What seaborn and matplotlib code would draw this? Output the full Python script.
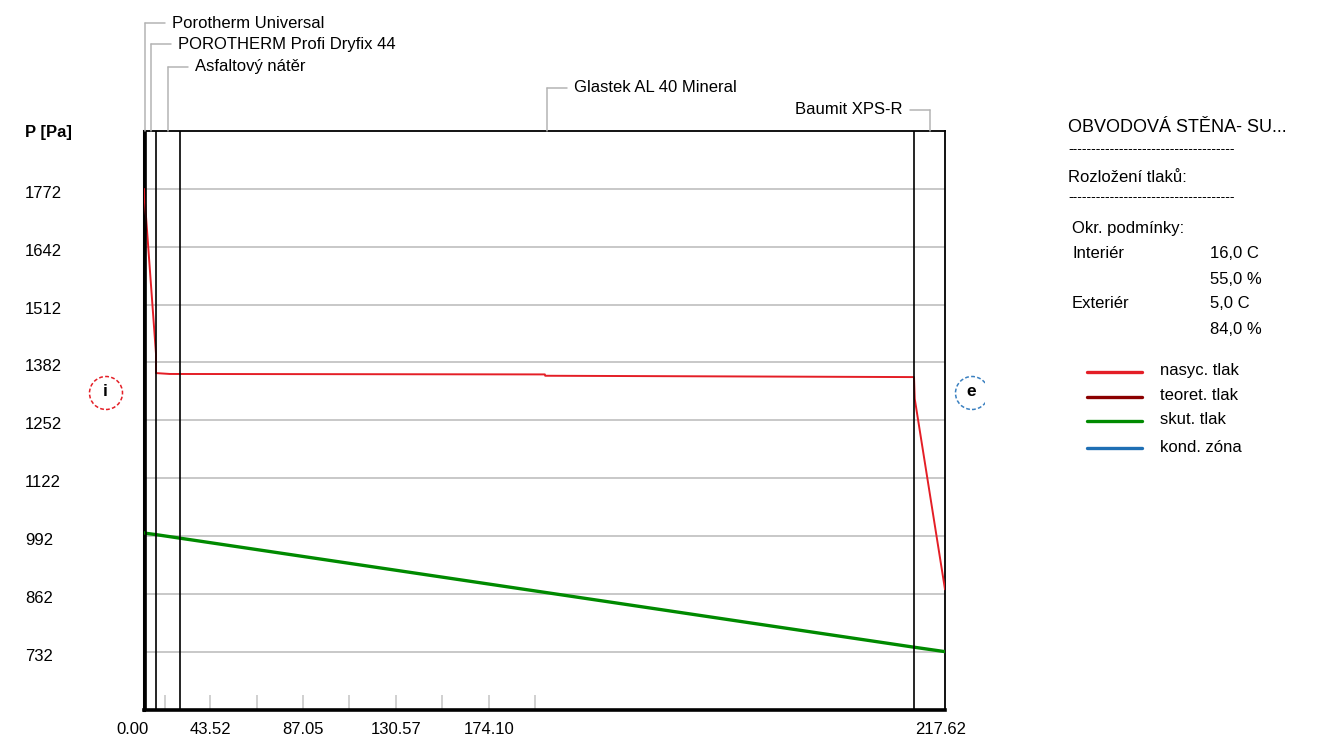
import matplotlib
matplotlib.use("Agg")
import matplotlib.pyplot as plt
import seaborn as sns
import pandas as pd
from matplotlib import transforms
from matplotlib.patches import Ellipse, Rectangle

# Wall layers (x axis: equivalent diffusion thickness)
layer_names = ["Porotherm Universal", "POROTHERM Profi Dryfix 44", "Asfaltový nátěr",
               "Glastek AL 40 Mineral", "Baumit XPS-R"]
layer_bounds = [0.0, 0.5, 3.26, 9.78, 209.2, 217.62]

# Saturated vapour pressure (nasyc. tlak)
sat_x = [0.0, 3.26, 3.26, 7.0, 108.9, 109.0, 209.2, 209.4, 217.62]
sat_p = [1772, 1401, 1358, 1356, 1355, 1352, 1349, 1300, 872]

# Actual vapour pressure (skut. tlak)
act_x = [0.0, 0.5, 3.26, 9.78, 209.2, 217.62]
act_p = [999, 998, 995, 987, 742, 732]

y_ticks = [1772, 1642, 1512, 1382, 1252, 1122, 992, 862, 732]
x_tick_labels = ["0.00", "43.52", "87.05", "130.57", "174.10", "217.62"]
x_label_pos = [-3.0, 17.93, 43.2, 68.46, 93.73, 216.3]
x_minor = [5.71, 17.93, 30.70, 43.20, 55.69, 68.46, 80.96, 93.73, 106.23]

legend_labels = ["nasyc. tlak", "teoret. tlak", "skut. tlak", "kond. zóna"]
legend_colors = ["#e41e26", "#8b0000", "#008a00", "#1f6fb4"]

info_title = "OBVODOVÁ STĚNA- SU..."
info_sub = "Rozložení tlaků:"
cond_rows = [("Okr. podmínky:", ""), ("Interiér", "16,0 C"), ("", "55,0 %"),
             ("Exteriér", "5,0 C"), ("", "84,0 %")]

sns.set_theme(style="white")
plt.rcParams["font.family"] = ["Liberation Sans", "DejaVu Sans"]
plt.rcParams["text.color"] = "black"
plt.rcParams["xtick.color"] = "black"
plt.rcParams["ytick.color"] = "black"

FS = 12

W, H = 1323, 738
fig = plt.figure(figsize=(W / 100, H / 100), dpi=100)
fig.patch.set_facecolor("white")


def fx(x):
    return x / W


def fy(y):
    return 1 - y / H


ax_l, ax_r, ax_t, ax_b = 144, 945, 131, 709.5
ax = fig.add_axes([fx(ax_l), fy(ax_b), fx(ax_r - ax_l), (ax_b - ax_t) / H])
ax.set_xlim(layer_bounds[0], layer_bounds[-1])
ax.set_ylim(602, 1902)

# horizontal grid
for v in y_ticks:
    ax.axhline(v, color="#c8c8c8", lw=1.4, zorder=1)

# layer boundaries
for b in layer_bounds[1:-1]:
    ax.axvline(b, color="black", lw=1.2, zorder=4)

sat_df = pd.DataFrame({"x": sat_x, "p": sat_p})
act_df = pd.DataFrame({"x": act_x, "p": act_p})
sns.lineplot(data=sat_df, x="x", y="p", sort=False, estimator=None,
             color=legend_colors[0], lw=1.4, ax=ax, zorder=3)
sns.lineplot(data=act_df, x="x", y="p", sort=False, estimator=None,
             color=legend_colors[2], lw=2.4, ax=ax, zorder=3)

for side, w in [("left", 2.2), ("bottom", 2.6), ("top", 1.3), ("right", 1.3)]:
    ax.spines[side].set_visible(True)
    ax.spines[side].set_color("black")
    ax.spines[side].set_linewidth(w)

ax.set_xlabel("")
ax.set_ylabel("")
ax.set_xticks([])
ax.set_yticks(y_ticks)
ax.set_yticklabels([str(v) for v in y_ticks], fontsize=FS, ha="left")
ax.tick_params(axis="y", length=0, pad=(ax_l - 25) * 0.72)
shift = transforms.ScaledTranslation(0, -3 / 100, fig.dpi_scale_trans)
for t in ax.get_yticklabels():
    t.set_transform(t.get_transform() + shift)

# short gray tick marks rising from the bottom
xb = ax.get_xaxis_transform()
for m in x_minor:
    ax.plot([m, m], [0, 15 / (ax_b - ax_t)], transform=xb, color="#c8c8c8",
            lw=1.2, zorder=2, solid_capstyle="butt")

for lab, pos in zip(x_tick_labels, x_label_pos):
    ax.text(pos, -(729 - ax_b) / (ax_b - ax_t), lab, transform=xb, ha="center",
            va="center", fontsize=FS, clip_on=False)

fig.text(fx(25), fy(132), "P [Pa]", fontsize=FS, fontweight="bold",
         ha="left", va="center")

# layer name leaders
mid = [(layer_bounds[i] + layer_bounds[i + 1]) / 2 for i in range(len(layer_names))]
lead_y = [23, 44, 67, 88, 110]
lead_dir = [1, 1, 1, 1, -1]
blend = transforms.blended_transform_factory(ax.transData, fig.transFigure)
inv = fig.transFigure.inverted()
gray = "#b4b4b4"
for name, xm, ly, d in zip(layer_names, mid, lead_y, lead_dir):
    fig.add_artist(plt.Line2D([xm, xm], [fy(ax_t), fy(ly)], transform=blend,
                              color=gray, lw=1.1))
    stub = transforms.offset_copy(blend, fig=fig, x=20 * d, y=0, units="dots")
    tt = transforms.offset_copy(blend, fig=fig, x=27 * d, y=0, units="dots")
    a = inv.transform(blend.transform((xm, fy(ly))))
    b = inv.transform(stub.transform((xm, fy(ly))))
    fig.add_artist(plt.Line2D([a[0], b[0]], [a[1], b[1]], transform=fig.transFigure,
                              color=gray, lw=1.1))
    fig.text(xm, fy(ly), name, transform=tt, ha="left" if d > 0 else "right",
             va="center", fontsize=FS)

# interior / exterior markers
clip = Rectangle((0, 0), fx(985), 1, transform=fig.transFigure, visible=False)
fig.add_artist(clip)
for cx, lab, col in [(106, "i", "#e41e26"), (972, "e", "#3a80c0")]:
    e = Ellipse((fx(cx), fy(393)), 33 / W, 33 / H, transform=fig.transFigure,
                fill=False, edgecolor=col, lw=1.1, ls=(0, (2.5, 1.5)))
    fig.add_artist(e)
    e.set_clip_path(clip)
    fig.text(fx(cx - 1), fy(392), lab, fontsize=12.5, fontweight="bold",
             ha="center", va="center")

# info panel
fig.text(fx(1068), fy(128), info_title, fontsize=13, ha="left", va="center")
dashes = "-" * 36
fig.text(fx(1068), fy(149), dashes, fontsize=10, ha="left", va="center")
fig.text(fx(1068), fy(177), info_sub, fontsize=FS, ha="left", va="center")
fig.text(fx(1068), fy(197), dashes, fontsize=10, ha="left", va="center")
row_y = [228, 254, 279, 304, 330]
for (lft, rgt), yy in zip(cond_rows, row_y):
    if lft:
        fig.text(fx(1072), fy(yy), lft, fontsize=FS, ha="left", va="center")
    if rgt:
        fig.text(fx(1210), fy(yy), rgt, fontsize=FS, ha="left", va="center")

leg_y = [372, 397, 421, 448]
for lab, col, yy in zip(legend_labels, legend_colors, leg_y):
    fig.add_artist(plt.Line2D([fx(1087), fx(1142)], [fy(yy), fy(yy)],
                              transform=fig.transFigure, color=col, lw=2.4))
    fig.text(fx(1160), fy(yy - 1), lab, fontsize=FS, ha="left", va="center")

fig.savefig("out.png", dpi=100, facecolor="white")
